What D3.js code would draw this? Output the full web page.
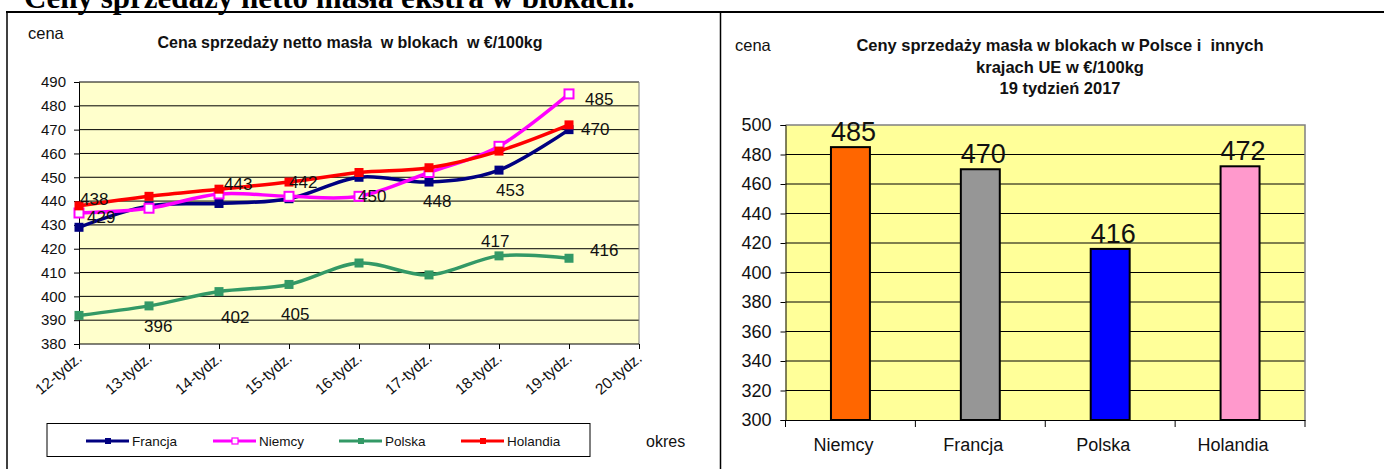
<!DOCTYPE html>
<html>
<head>
<meta charset="utf-8">
<script src="https://cdn.jsdelivr.net/npm/d3@7"></script>
<style>
  body { margin: 0; background: #fff; }
  text { font-family: "Liberation Sans", Arial, sans-serif; }
</style>
</head>
<body>
<div id="chart"></div>
<script>
// weekly prices (left chart)
var weeks = ["12-tydz.", "13-tydz.", "14-tydz.", "15-tydz.", "16-tydz.", "17-tydz.", "18-tydz.", "19-tydz.", "20-tydz."];
var francja = [429, 438, 439, 441, 450, 448, 453, 470];
var niemcy = [435, 437, 443, 442, 442, 452, 463, 485];
var polska = [392, 396, 402, 405, 414, 409, 417, 416];
var holandia = [438, 442, 445, 448, 452, 454, 461, 472];
var lineTicks = [380, 390, 400, 410, 420, 430, 440, 450, 460, 470, 480, 490];

// week 19 comparison (right chart)
var countries = ["Niemcy", "Francja", "Polska", "Holandia"];
var week19 = [485, 470, 416, 472];
var barTicks = [300, 320, 340, 360, 380, 400, 420, 440, 460, 480, 500];

var W = 1384, H = 469;
var svg = d3.select("#chart").append("svg")
    .attr("width", W)
    .attr("height", H);

// page heading + table frame
svg.append("text")
    .attr("x", 24).attr("y", 8)
    .style("font-family", "'Liberation Serif', 'Times New Roman', serif")
    .style("font-weight", "bold")
    .style("font-size", "31px")
    .text("Ceny sprzedaży netto masła ekstra w blokach.");
svg.append("line").attr("x1", 6).attr("x2", W).attr("y1", 12).attr("y2", 12)
    .attr("stroke", "#000").attr("stroke-width", 2);
svg.append("line").attr("x1", 7).attr("x2", 7).attr("y1", 12).attr("y2", H)
    .attr("stroke", "#000").attr("stroke-width", 1.5);
svg.append("line").attr("x1", 720.5).attr("x2", 720.5).attr("y1", 12).attr("y2", H)
    .attr("stroke", "#000").attr("stroke-width", 1.5);

/* ---------- left: line chart ---------- */
var series = [
    {name: "Francja", values: francja, color: "#000080", hollow: false},
    {name: "Niemcy", values: niemcy, color: "#FF00FF", hollow: true},
    {name: "Polska", values: polska, color: "#339966", hollow: false},
    {name: "Holandia", values: holandia, color: "#FF0000", hollow: false}
];

var lx = d3.scalePoint().domain(weeks).range([79, 639]);
var ly = d3.scaleLinear().domain([380, 490]).range([344, 82]);

var left = svg.append("g");
left.append("rect")
    .attr("x", 79).attr("y", 82)
    .attr("width", 560).attr("height", 262)
    .attr("fill", "#FFFFCC");

left.append("g").selectAll("line")
    .data(lineTicks.slice(1))
    .enter().append("line")
    .attr("x1", 79).attr("x2", 639)
    .attr("y1", function(d){ return ly(d); })
    .attr("y2", function(d){ return ly(d); })
    .attr("stroke", "#000").attr("stroke-width", 1);
left.append("line").attr("x1", 639).attr("x2", 639).attr("y1", 82).attr("y2", 344)
    .attr("stroke", "#808080");

var lyAxis = left.append("g")
    .attr("transform", "translate(79,0)")
    .call(d3.axisLeft(ly).tickValues(lineTicks).tickSize(5).tickPadding(8));
lyAxis.selectAll("text").style("font-size", "15px").attr("fill", "#111");

var lxAxis = left.append("g")
    .attr("transform", "translate(0,344)")
    .call(d3.axisBottom(lx).tickSize(5).tickFormat(""));
lxAxis.select(".domain").attr("d", "M79,0H639");
left.selectAll(".domain, .tick line").attr("stroke", "#000");

left.append("g").selectAll("text")
    .data(weeks)
    .enter().append("text")
    .attr("transform", function(d){ return "translate(" + (lx(d) + 4) + ",360) rotate(-40)"; })
    .attr("text-anchor", "end")
    .style("font-size", "15.5px")
    .attr("fill", "#111")
    .text(function(d){ return d; });

var line = d3.line()
    .x(function(d, i){ return lx(weeks[i]); })
    .y(function(d){ return ly(d); })
    .curve(d3.curveCardinal.tension(0));

series.forEach(function(s){
    var g = left.append("g");
    g.append("path")
        .attr("d", line(s.values))
        .attr("fill", "none")
        .attr("stroke", s.color)
        .attr("stroke-width", 3.5);
    g.selectAll("rect")
        .data(s.values)
        .enter().append("rect")
        .attr("x", function(d, i){ return lx(weeks[i]) - 4.5; })
        .attr("y", function(d){ return ly(d) - 4.5; })
        .attr("width", 9).attr("height", 9)
        .attr("fill", s.hollow ? "#fff" : s.color)
        .attr("stroke", s.color)
        .attr("stroke-width", s.hollow ? 2 : 0);
});

// data labels, placed where the source chart put them
var labelSpots = [
    {s: "Holandia", i: 0, dx: 1, dy: -1},
    {s: "Francja", i: 0, dx: 8, dy: -4},
    {s: "Niemcy", i: 2, dx: 5, dy: -4},
    {s: "Niemcy", i: 3, dx: 0, dy: -8},
    {s: "Francja", i: 4, dx: -1, dy: 25},
    {s: "Francja", i: 5, dx: -6, dy: 25},
    {s: "Francja", i: 6, dx: -3, dy: 26},
    {s: "Francja", i: 7, dx: 12, dy: 5},
    {s: "Niemcy", i: 7, dx: 16, dy: 11},
    {s: "Polska", i: 1, dx: -5, dy: 26},
    {s: "Polska", i: 2, dx: 2, dy: 31},
    {s: "Polska", i: 3, dx: -8, dy: 36},
    {s: "Polska", i: 6, dx: -18, dy: -9},
    {s: "Polska", i: 7, dx: 21, dy: -2}
];
left.append("g").selectAll("text")
    .data(labelSpots)
    .enter().append("text")
    .attr("x", function(d){ return lx(weeks[d.i]) + d.dx; })
    .attr("y", function(d){
        var v = series.find(function(s){ return s.name == d.s; }).values[d.i];
        return ly(v) + d.dy;
    })
    .style("font-size", "17px")
    .attr("fill", "#111")
    .text(function(d){ return series.find(function(s){ return s.name == d.s; }).values[d.i]; });

left.append("text").attr("x", 28).attr("y", 39)
    .style("font-size", "16.5px").attr("fill", "#111").text("cena");
left.append("text").attr("x", 350).attr("y", 48)
    .attr("text-anchor", "middle")
    .attr("xml:space", "preserve")
    .style("font-size", "16px").style("font-weight", "bold").attr("fill", "#111")
    .text("Cena sprzedaży netto masła  w blokach  w €/100kg");

// legend
var legend = left.append("g");
legend.append("rect")
    .attr("x", 47).attr("y", 423.5)
    .attr("width", 543).attr("height", 33)
    .attr("fill", "#fff").attr("stroke", "#000");
var legendX = [86, 213, 339, 461];
series.forEach(function(s, i){
    var x0 = legendX[i];
    legend.append("line")
        .attr("x1", x0).attr("x2", x0 + 43)
        .attr("y1", 441).attr("y2", 441)
        .attr("stroke", s.color).attr("stroke-width", 3);
    legend.append("rect")
        .attr("x", x0 + 19).attr("y", 438)
        .attr("width", 6).attr("height", 6)
        .attr("fill", s.hollow ? "#fff" : s.color)
        .attr("stroke", s.color).attr("stroke-width", s.hollow ? 1.2 : 0);
    legend.append("text")
        .attr("x", x0 + 46).attr("y", 446)
        .style("font-size", "13.5px").attr("fill", "#111")
        .text(s.name);
});
left.append("text").attr("x", 646).attr("y", 447)
    .style("font-size", "16px").attr("fill", "#111").text("okres");

/* ---------- right: bar chart ---------- */
var bx = d3.scaleBand().domain(countries).range([785.5, 1305]).padding(0);
var by = d3.scaleLinear().domain([300, 500]).range([420, 125]);
var barColors = ["#FF6600", "#969696", "#0000FF", "#FF99CC"];

var right = svg.append("g");
right.append("rect")
    .attr("x", 785.5).attr("y", 125)
    .attr("width", 1305 - 785.5).attr("height", 295)
    .attr("fill", "#FFFF99");
right.append("g").selectAll("line")
    .data(barTicks.slice(1, -1))
    .enter().append("line")
    .attr("x1", 785.5).attr("x2", 1305)
    .attr("y1", function(d){ return by(d); })
    .attr("y2", function(d){ return by(d); })
    .attr("stroke", "#000");
right.append("path")
    .attr("d", "M785.5,125H1305V420")
    .attr("fill", "none").attr("stroke", "#808080").attr("stroke-width", 1.5);

var byAxis = right.append("g")
    .attr("transform", "translate(785.5,0)")
    .call(d3.axisLeft(by).tickValues(barTicks).tickSize(5).tickPadding(9));
byAxis.selectAll("text").style("font-size", "18px").attr("fill", "#111");

var bxAxis = right.append("g")
    .attr("transform", "translate(0,420)")
    .call(d3.axisBottom(bx).tickSize(0).tickPadding(18));
bxAxis.selectAll("text").style("font-size", "18px").attr("fill", "#111").attr("dx", -7);
bxAxis.selectAll(".sep")
    .data(countries.concat(["end"]))
    .enter().append("line")
    .attr("x1", function(d, i){ return 785.5 + i * bx.step(); })
    .attr("x2", function(d, i){ return 785.5 + i * bx.step(); })
    .attr("y1", 0).attr("y2", 7)
    .attr("stroke", "#000");
right.selectAll(".domain, .tick line").attr("stroke", "#000");

var barW = bx.bandwidth() * 0.3;
right.append("g").selectAll("rect")
    .data(week19)
    .enter().append("rect")
    .attr("x", function(d, i){ return bx(countries[i]) + bx.bandwidth() / 2 - barW / 2; })
    .attr("y", function(d){ return by(d); })
    .attr("width", barW)
    .attr("height", function(d){ return by(300) - by(d); })
    .attr("fill", function(d, i){ return barColors[i]; })
    .attr("stroke", "#000").attr("stroke-width", 2);

right.append("g").selectAll("text")
    .data(week19)
    .enter().append("text")
    .attr("x", function(d, i){ return bx(countries[i]) + bx.bandwidth() / 2 + 3; })
    .attr("y", function(d){ return by(d) - 6; })
    .attr("text-anchor", "middle")
    .style("font-size", "27px").attr("fill", "#111")
    .text(function(d){ return d; });

right.append("text").attr("x", 735).attr("y", 51)
    .style("font-size", "16.5px").attr("fill", "#111").text("cena");
var titleLines = ["Ceny sprzedaży masła w blokach w Polsce i  innych", "krajach UE w €/100kg", "19 tydzień 2017"];
right.append("g").selectAll("text")
    .data(titleLines)
    .enter().append("text")
    .attr("x", 1060)
    .attr("y", function(d, i){ return 51 + i * 21.5; })
    .attr("text-anchor", "middle")
    .attr("xml:space", "preserve")
    .style("font-size", "16.5px").style("font-weight", "bold").attr("fill", "#111")
    .text(function(d){ return d; });
</script>
</body>
</html>
